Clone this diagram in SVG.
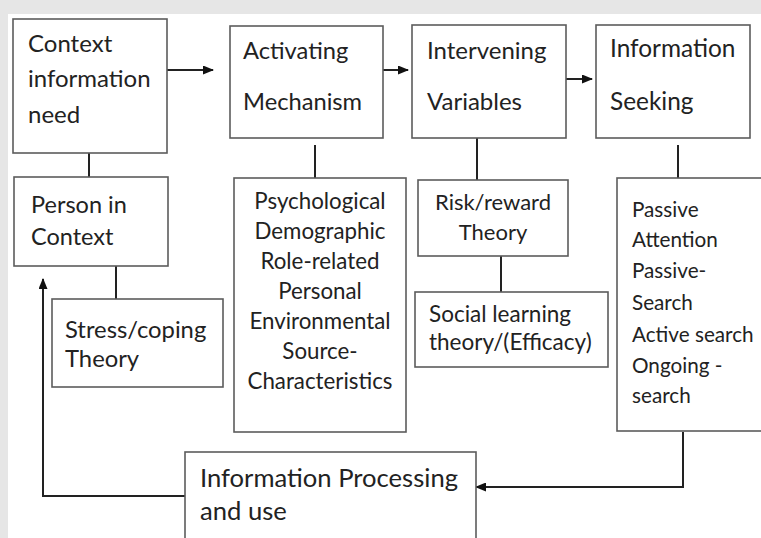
<svg xmlns="http://www.w3.org/2000/svg" width="761" height="538" viewBox="0 0 761 538">
<defs>
<marker id="ah" markerWidth="11" markerHeight="9" refX="10" refY="4.5" orient="auto" markerUnits="userSpaceOnUse">
<path d="M0,0 L11,4.5 L0,9 Z" fill="#111"/>
</marker>
<style>
.box{fill:#fff;stroke:#5c5c5c;stroke-width:1.6}
.t{font-family:Lato,"Liberation Sans",sans-serif;font-size:22px;fill:#222}
.c{text-anchor:middle}
.ln{fill:none;stroke:#222;stroke-width:2}
</style>
</defs>
<rect x="0" y="0" width="761" height="538" fill="#e6e6e6"/>
<rect x="8" y="14" width="753" height="524" fill="#fff"/>
<g id="connectors">
<path class="ln" d="M167,70 H213" marker-end="url(#ah)"/>
<path class="ln" d="M383,70 H408" marker-end="url(#ah)"/>
<path class="ln" d="M566,79 H592" marker-end="url(#ah)"/>
<path class="ln" d="M89,153 V177"/>
<path class="ln" d="M116,266 V299"/>
<path class="ln" d="M315,145 V178"/>
<path class="ln" d="M477,138 V180"/>
<path class="ln" d="M501,256 V292"/>
<path class="ln" d="M678,145 V178"/>
<path class="ln" d="M683,432 V487 H476" marker-end="url(#ah)"/>
<path class="ln" d="M185,496 H43 V279" marker-end="url(#ah)"/>
</g>
<g id="context" style="font-size:24px">
<rect class="box" x="13" y="19" width="154" height="134"/>
<text class="t" style="font-size:24px" x="28" y="52">Context</text>
<text class="t" style="font-size:24px" x="28" y="87">information</text>
<text class="t" style="font-size:24px" x="28" y="123">need</text>
</g>
<g id="activating">
<rect class="box" x="230" y="26" width="153" height="112"/>
<text class="t" style="font-size:23.7px" x="243" y="59">Activating</text>
<text class="t" style="font-size:23.7px" x="243" y="110">Mechanism</text>
</g>
<g id="intervening">
<rect class="box" x="412" y="25" width="154" height="113"/>
<text class="t" style="font-size:24px" x="427" y="59">Intervening</text>
<text class="t" style="font-size:24px" x="427" y="110">Variables</text>
</g>
<g id="seeking">
<rect class="box" x="596" y="25" width="154" height="113"/>
<text class="t" style="font-size:24.4px" x="610" y="57">Information</text>
<text class="t" style="font-size:24.4px" x="610" y="110">Seeking</text>
</g>
<g id="person">
<rect class="box" x="14" y="177" width="154" height="89"/>
<text class="t" style="font-size:23.5px" x="31" y="213">Person in</text>
<text class="t" style="font-size:23.5px" x="31" y="245">Context</text>
</g>
<g id="stress">
<rect class="box" x="52" y="299" width="171" height="88"/>
<text class="t" style="font-size:23.8px" x="65" y="338">Stress/coping</text>
<text class="t" style="font-size:23.8px" x="65" y="367">Theory</text>
</g>
<g id="factors">
<rect class="box" x="234" y="178" width="172" height="254"/>
<text class="t c" style="font-size:22.3px" x="320" y="209">Psychological</text>
<text class="t c" style="font-size:22.3px" x="320" y="239">Demographic</text>
<text class="t c" style="font-size:22.3px" x="320" y="269">Role-related</text>
<text class="t c" style="font-size:22.3px" x="320" y="299">Personal</text>
<text class="t c" style="font-size:22.3px" x="320" y="329">Environmental</text>
<text class="t c" style="font-size:22.3px" x="320" y="359">Source-</text>
<text class="t c" style="font-size:22.3px" x="320" y="389">Characteristics</text>
</g>
<g id="risk">
<rect class="box" x="418" y="180" width="150" height="76"/>
<text class="t c" x="493" y="210">Risk/reward</text>
<text class="t c" x="493" y="240">Theory</text>
</g>
<g id="social">
<rect class="box" x="415" y="292" width="193" height="75"/>
<text class="t" style="font-size:22.5px" x="429" y="322">Social learning</text>
<text class="t" style="font-size:22.5px" x="429" y="350">theory/(Efficacy)</text>
</g>
<g id="modes">
<rect class="box" x="617" y="178" width="150" height="253"/>
<text class="t" style="font-size:20.7px" x="632" y="217">Passive</text>
<text class="t" style="font-size:20.7px" x="632" y="247">Attention</text>
<text class="t" style="font-size:20.7px" x="632" y="278">Passive-</text>
<text class="t" style="font-size:20.7px" x="632" y="310">Search</text>
<text class="t" style="font-size:20.7px" x="632" y="342">Active search</text>
<text class="t" style="font-size:20.7px" x="632" y="373">Ongoing -</text>
<text class="t" style="font-size:20.7px" x="632" y="403">search</text>
</g>
<g id="processing">
<rect class="box" x="185" y="452" width="291" height="90"/>
<text class="t" style="font-size:25.6px" x="200" y="487">Information Processing</text>
<text class="t" style="font-size:25.6px" x="200" y="520">and use</text>
</g>
</svg>
